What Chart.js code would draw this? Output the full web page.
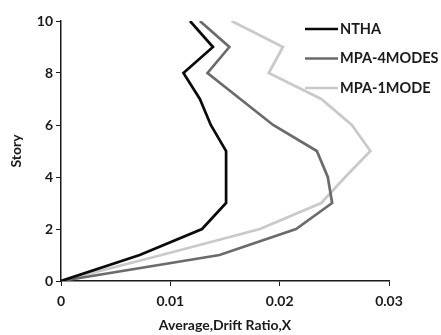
<!DOCTYPE html>
<html>
<head>
<meta charset="utf-8">
<script src="https://cdn.jsdelivr.net/npm/chart.js@4"></script>
<style>
    html, body { margin: 0; padding: 0; background: #fff; }
    #wrap { width: 441px; height: 335px; }
</style>
</head>
<body>
<div id="wrap"><canvas id="driftChart" width="441" height="335"></canvas></div>
<script>
const stories = [0, 1, 2, 3, 4, 5, 6, 7, 8, 9, 10];
const ntha = [0, 0.0072, 0.0129, 0.0151, 0.0151, 0.0151, 0.0137, 0.0127, 0.0112, 0.0139, 0.0118];
const mpa4 = [0, 0.0145, 0.0215, 0.0248, 0.0244, 0.0234, 0.0194, 0.0164, 0.0134, 0.0154, 0.0127];
const mpa1 = [0, 0.0092, 0.0182, 0.0238, 0.0260, 0.0283, 0.0266, 0.0238, 0.0190, 0.0203, 0.0156];
const xTicks = [0, 0.01, 0.02, 0.03];
const yTicks = [0, 2, 4, 6, 8, 10];

const seriesNames = ['NTHA', 'MPA-4MODES', 'MPA-1MODE'];
const seriesValues = [ntha, mpa4, mpa1];
const seriesColors = ['#0a0a0a', '#6b6b6b', '#c9c9c9'];

const fontFam = "Lato, 'Open Sans', sans-serif";

// legend drawn inside the plot, top right
const sideLegend = {
    id: 'sideLegend',
    afterDraw(chart) {
        const ctx = chart.ctx;
        ctx.save();
        ctx.font = 'bold 14.5px ' + fontFam;
        ctx.textBaseline = 'middle';
        chart.data.datasets.forEach((ds, i) => {
            const y = 29 + i * 29.5;
            ctx.strokeStyle = ds.borderColor;
            ctx.lineWidth = 2.7;
            ctx.beginPath();
            ctx.moveTo(305, y);
            ctx.lineTo(338, y);
            ctx.stroke();
            ctx.fillStyle = '#1a1a1a';
            ctx.fillText(ds.label, 340, y);
        });
        ctx.restore();
    }
};

const datasets = seriesNames.map((name, i) => ({
    label: name,
    data: seriesValues[i].map((v, k) => ({x: v, y: stories[k]})),
    showLine: true,
    borderColor: seriesColors[i],
    backgroundColor: seriesColors[i],
    borderWidth: 2.7,
    pointRadius: 0,
    tension: 0
}));

new Chart(document.getElementById('driftChart'), {
    type: 'scatter',
    data: { datasets: datasets },
    plugins: [sideLegend],
    options: {
        responsive: false,
        animation: false,
        layout: { padding: { top: 21, right: 52, left: 0, bottom: 0 } },
        plugins: {
            legend: { display: false },
            tooltip: { enabled: false }
        },
        scales: {
            x: {
                type: 'linear',
                min: 0,
                max: 0.03,
                afterBuildTicks: (scale) => { scale.ticks = xTicks.map(v => ({value: v})); },
                afterFit: (scale) => { scale.height = 54; },
                border: { display: true, color: '#1a1a1a', width: 1.5 },
                grid: { drawOnChartArea: false, drawTicks: true, tickLength: 5, color: '#1a1a1a' },
                ticks: {
                    padding: 7,
                    color: '#1a1a1a',
                    font: { size: 14, family: fontFam, weight: 'bold' },
                    callback: (v) => String(v)
                },
                title: {
                    display: true,
                    text: 'Average,Drift Ratio,X',
                    color: '#1a1a1a',
                    padding: { top: 0, bottom: 1 },
                    font: { size: 14, family: fontFam, weight: 'bold' }
                }
            },
            y: {
                type: 'linear',
                min: 0,
                max: 10,
                afterBuildTicks: (scale) => { scale.ticks = yTicks.map(v => ({value: v})); },
                afterFit: (scale) => { scale.width = 61; },
                border: { display: true, color: '#1a1a1a', width: 1.5 },
                grid: { drawOnChartArea: false, drawTicks: true, tickLength: 5, color: '#1a1a1a' },
                ticks: {
                    padding: 3,
                    color: '#1a1a1a',
                    font: { size: 14, family: fontFam, weight: 'bold' }
                },
                title: {
                    display: true,
                    text: 'Story',
                    color: '#1a1a1a',
                    padding: { top: 8, bottom: 0 },
                    font: { size: 14, family: fontFam, weight: 'bold' }
                }
            }
        }
    }
});
</script>
</body>
</html>
